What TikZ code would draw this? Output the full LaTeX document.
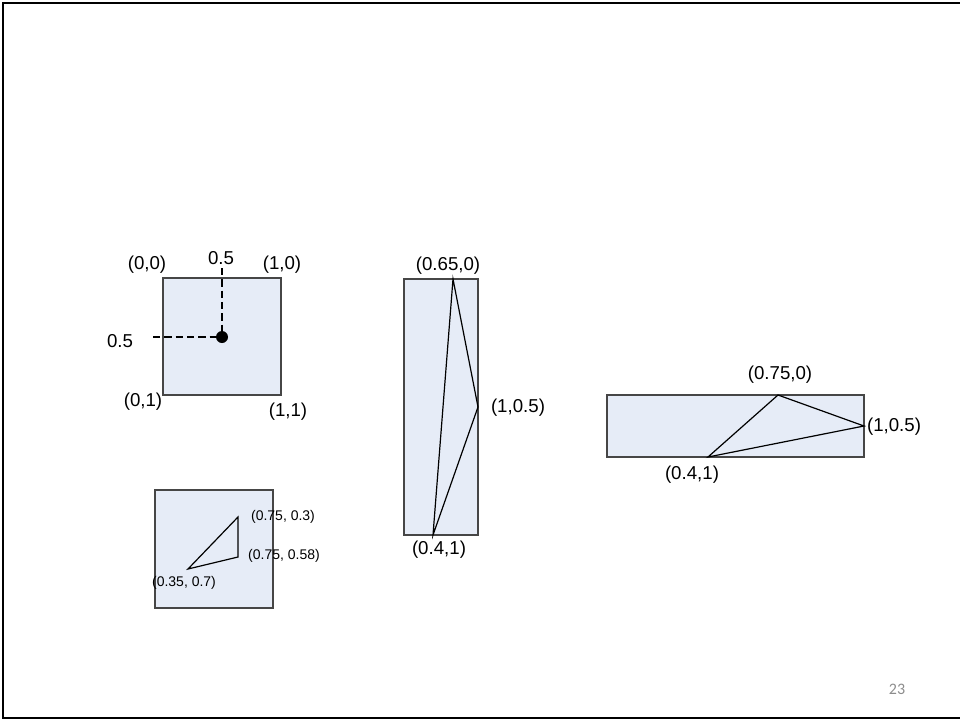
\documentclass[tikz,border=0pt]{standalone}
\usepackage{fontspec}
\setmainfont{Liberation Sans}
\newfontfamily\pagefont{Carlito}
\definecolor{boxfill}{RGB}{230,236,247}
\definecolor{boxline}{RGB}{70,70,70}
\definecolor{pagegray}{RGB}{140,140,140}

\begin{document}
\begin{tikzpicture}[x=0.75pt, y=-0.75pt,
	box/.style={draw=boxline, fill=boxfill, line width=0.9pt},
	tri/.style={draw=black, line width=0.9pt, line join=miter},
	lbl/.style={font=\fontsize{14}{16}\selectfont, inner sep=0pt},
	slbl/.style={font=\fontsize{10.5}{12}\selectfont, inner sep=0pt},
	guide/.style={line width=1.5pt, dash pattern={on 5.5pt off 3pt}}]
	% Frame and boxes:
	\useasboundingbox (0, 0) rectangle (960, 721);
	\draw[line width=2.2pt] (965, 3) -- (3, 3) -- (3, 718) -- (965, 718);
	\draw[box] (163, 278) rectangle (281, 395);
	\draw[box] (155, 490) rectangle (273, 608);
	\draw[box] (404, 279) rectangle (478, 535);
	\draw[box] (607, 395) rectangle (864, 457);
	% Unit square with midpoint:
	\node[circle, fill=black, inner sep=0pt, minimum size=9pt] (mid) at (222, 337){};
	\coordinate (topend) at (222, 268);
	\coordinate (leftend) at (153, 337);
	\draw[guide] (topend) -- (mid);
	\draw[guide] (leftend) -- (mid);
	\node[lbl] (halfx) at (221, 258){0.5};
	\node[lbl] (halfy) at (120, 341){0.5};
	\node[lbl] (c00) at (147, 265){(0,0)};
	\node[lbl] (c10) at (282, 265){(1,0)};
	\node[lbl] (c01) at (143, 402){(0,1)};
	\node[lbl] (c11) at (288, 412){(1,1)};
	% Small triangle:
	\coordinate (sa) at (238, 517);
	\coordinate (sb) at (238, 557);
	\coordinate (sc) at (188, 569);
	\draw[tri] (sa) -- (sb) -- (sc) -- cycle;
	\node[slbl] (sal) at (283, 517){(0.75, 0.3)};
	\node[slbl] (sbl) at (284, 556){(0.75, 0.58)};
	\node[slbl] (scl) at (184, 583){(0.35, 0.7)};
	% Tall triangle:
	\coordinate (ta) at (453, 279);
	\coordinate (tb) at (478, 407);
	\coordinate (tc) at (433, 535);
	\draw[tri] (ta) -- (tb) -- (tc) -- cycle;
	\node[lbl] (tal) at (448, 266){(0.65,0)};
	\node[lbl] (tbl) at (518, 408){(1,0.5)};
	\node[lbl] (tcl) at (439, 550){(0.4,1)};
	% Wide triangle:
	\coordinate (wa) at (778, 395);
	\coordinate (wb) at (864, 426);
	\coordinate (wc) at (708, 457);
	\draw[tri] (wa) -- (wb) -- (wc) -- cycle;
	\node[lbl] (wal) at (780, 375){(0.75,0)};
	\node[lbl] (wbl) at (894, 427){(1,0.5)};
	\node[lbl] (wcl) at (692, 475){(0.4,1)};
	\node[font=\pagefont\fontsize{12}{14}\selectfont, text=pagegray, inner sep=0pt] (pnum) at (897, 689){23};
\end{tikzpicture}
\end{document}
